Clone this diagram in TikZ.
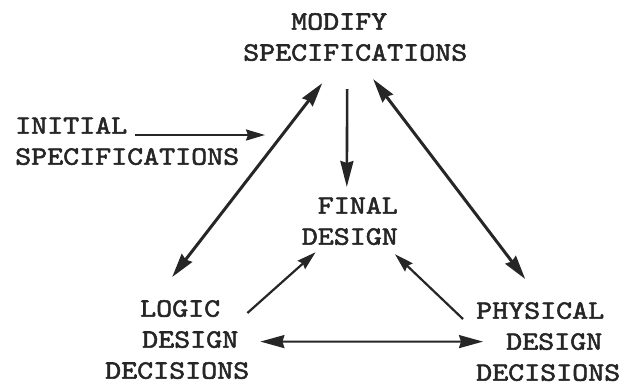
\documentclass[tikz,border=0pt]{standalone}
\usepackage{fontspec}
\newfontfamily\tw{lmmono10-regular.otf}[FakeStretch=1.15,FakeBold=2]
\usetikzlibrary{calc,arrows.meta}
\definecolor{ink}{HTML}{262626}
\begin{document}
\begin{tikzpicture}[x=1bp,y=-1bp,
  lbl/.style={inner sep=0pt, text=ink, font=\tw\fontsize{26.5bp}{31bp}\selectfont},
  bigarrow/.style={draw=ink, line width=3bp, >={Stealth[length=24bp,width=13bp,inset=2bp]}},
  midarrow/.style={draw=ink, line width=2.6bp, >={Stealth[length=26bp,width=13bp,inset=2bp]}},
  smallarrow/.style={draw=ink, line width=2.2bp, >={Stealth[length=19bp,width=11bp,inset=2bp]}},
  flatarrow/.style={draw=ink, line width=2bp, >={Stealth[length=24bp,width=13bp,inset=2bp]}}]
\fill[white] (0,0) rectangle (622,387);
\useasboundingbox (0,0) rectangle (622,387);

\node[lbl, anchor=north west, align=left] (modify) at (243,13) {\hspace*{48bp}MODIFY\\SPECIFICATIONS};
\node[lbl, anchor=north west, align=left] (initial) at (15,117) {INITIAL\\SPECIFICATIONS};
\node[lbl, anchor=north east, align=right] (final) at (398,197) {FINAL\\DESIGN};
\node[lbl, anchor=north west, align=left] (logic) at (105,300) {\hspace*{35bp}LOGIC\\\hspace*{37bp}DESIGN\\DECISIONS};
\node[lbl, anchor=north west, align=left] (physical) at (476,302) {PHYSICAL\\\hspace*{30bp}DESIGN\\DECISIONS};

\coordinate (initend) at (265,135);
\draw[smallarrow,->] ($(initial.north west)+(120,18)$) -- (initend);

\draw[bigarrow,<->] ($(logic.north)+(-5,-23)$) -- ($(modify.south)+(-33,22)$);
\draw[midarrow,->] ($(modify.south)+(-8,28)$) -- ($(final.north)+(-3,-10)$);
\draw[bigarrow,<->] ($(modify.south)+(18,18)$) -- ($(physical.north)+(-23,-23)$);

\draw[smallarrow,->] ($(logic.north east)+(-2,13)$) -- ($(final.south west)+(14,7)$);
\draw[smallarrow,->] ($(physical.north west)+(-13,17)$) -- ($(final.south east)+(-3,9)$);
\draw[flatarrow,<->] ($(logic.east)+(11,2)$) -- ($(physical.west)+(7,0)$);
\end{tikzpicture}
\end{document}
